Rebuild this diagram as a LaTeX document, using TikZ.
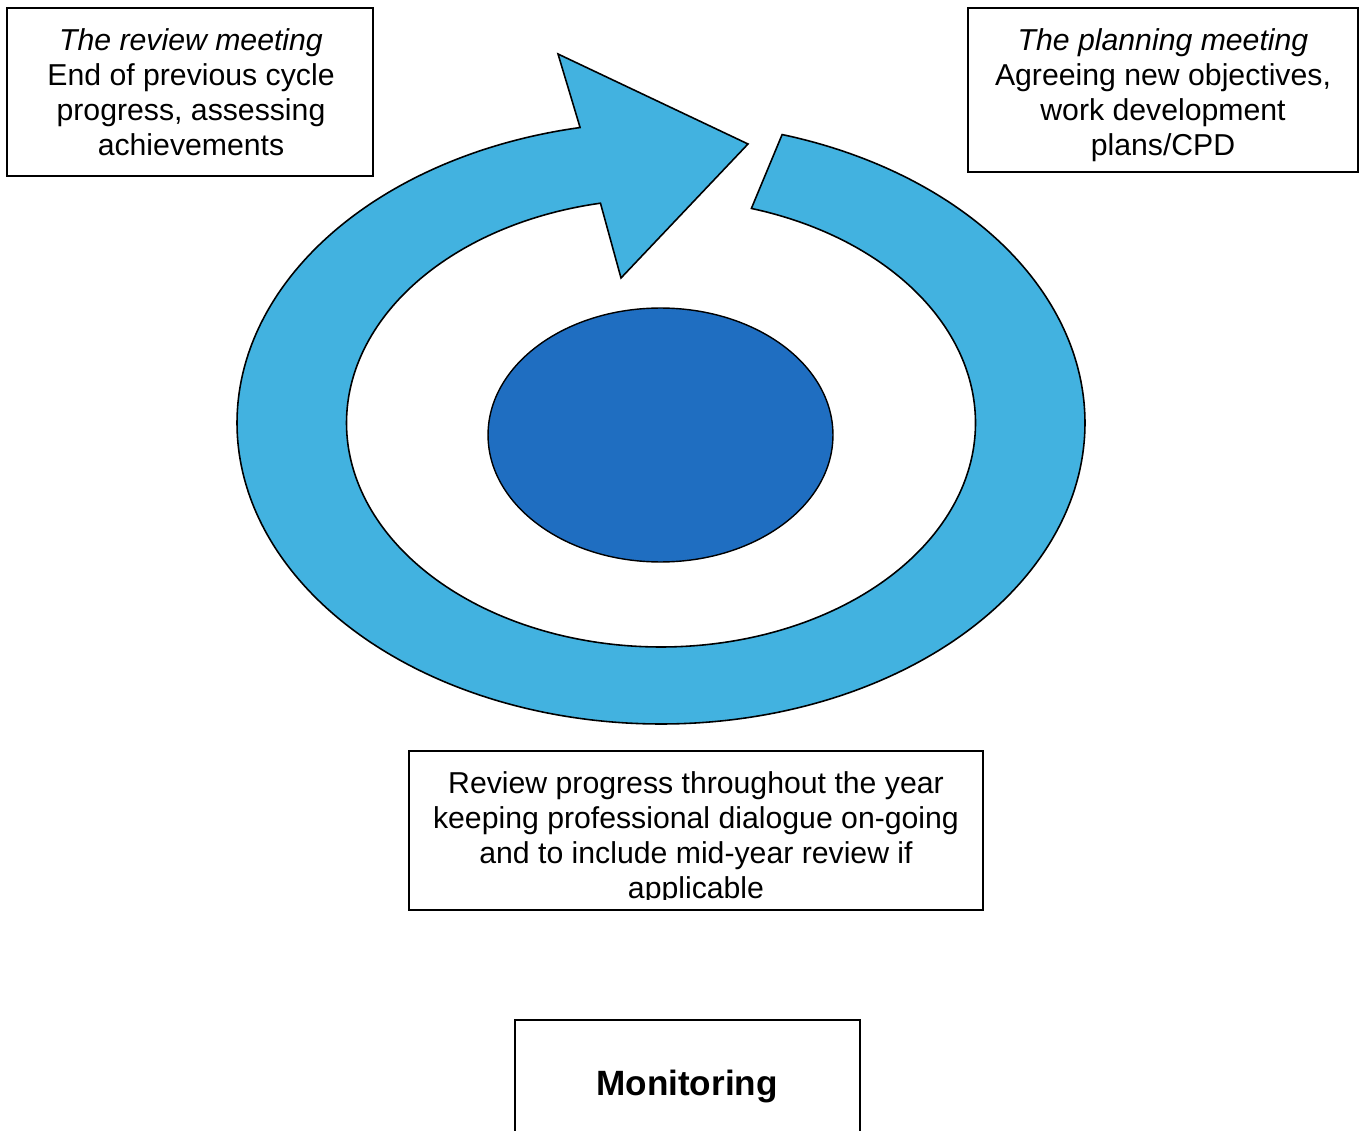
\documentclass[tikz,border=0pt]{standalone}
\usepackage{fontspec}
\setmainfont{Liberation Sans}
\usetikzlibrary{shapes.geometric}
\definecolor{ringblue}{RGB}{66,178,224}
\definecolor{coreblue}{RGB}{31,110,193}
\begin{document}
\begin{tikzpicture}[x=0.02cm,y=-0.02cm,
  box/.style={draw=black,line width=1pt,fill=white,inner sep=0pt},
  txt/.style={align=center,font=\fontsize{17.2}{20}\selectfont,inner sep=0pt},
  ring/.style={fill=ringblue,draw=black,line width=0.9pt,line join=miter},
  core/.style={ellipse,fill=coreblue,draw=black,line width=0.8pt,inner sep=0pt}]
\useasboundingbox (0,0) rectangle (1365,1131);
\clip (0,0) rectangle (1365,1131);

% curved arrow ring
\draw[ring] (621,278) -- (748,144) -- (558,54)
  -- plot[domain=101:433.4,samples=240,smooth] ({661+424*cos(\x)},{423-301*sin(\x)})
  -- plot[domain=433.3:101.1,samples=240,smooth] ({661+314.5*cos(\x)},{423-224*sin(\x)})
  -- cycle;

% centre ellipse
\node[core,minimum width=6.9cm,minimum height=5.08cm] (centre) at (660.5,435) {};

% review meeting box
\node[box,minimum width=7.32cm,minimum height=3.36cm] (review) at (190,92) {};
\node[txt] (reviewtext) at (191,92) {\textit{The review meeting}\\End of previous cycle\\progress, assessing\\achievements};

% planning meeting box
\node[box,minimum width=7.8cm,minimum height=3.28cm] (planning) at (1163,90) {};
\node[txt] (planningtext) at (1163,95) {\textit{The planning meeting}\\Agreeing new objectives,\\work development\\plans/CPD};

% progress box
\node[box,minimum width=11.48cm,minimum height=3.18cm] (progress) at (696,830.5) {};
\begin{scope}
  \clip (409,751) rectangle (983,899);
  \node[txt] (progresstext) at (696,838) {Review progress throughout the year\\keeping professional dialogue on-going\\and to include mid-year review if\\applicable};
\end{scope}

% monitoring box
\node[box,minimum width=6.9cm,minimum height=2.8cm] (monitoring) at (687.5,1090) {};
\node[inner sep=0pt,font=\bfseries\fontsize{20}{24}\selectfont] (monitoringtext) at (687,1086) {Monitoring};
\end{tikzpicture}
\end{document}
